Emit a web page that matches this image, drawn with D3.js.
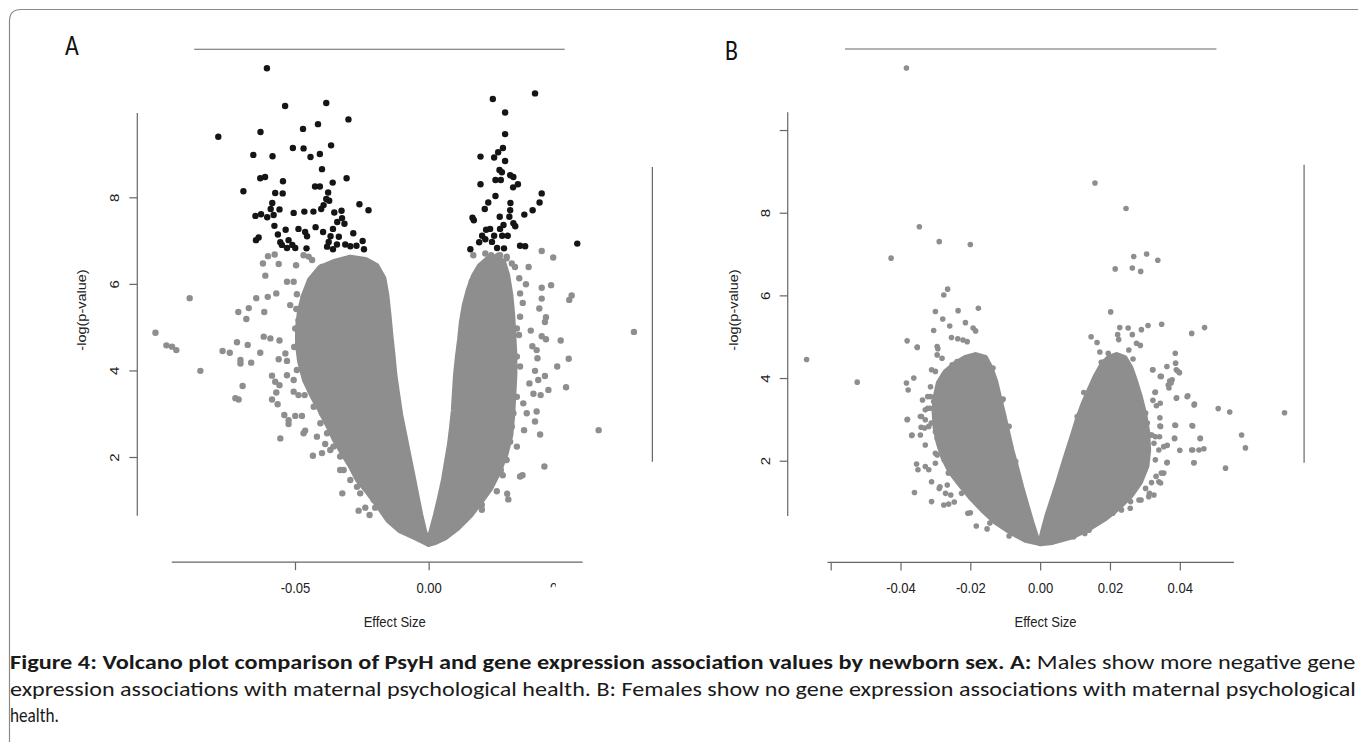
<!DOCTYPE html>
<html>
<head>
<meta charset="utf-8">
<script src="https://cdn.jsdelivr.net/npm/d3@7"></script>
<style>
  body { margin: 0; background: #fff; }
  svg { display: block; }
</style>
</head>
<body>
<script>
'use strict';

// ---- values: [effect size, -log(p-value)] ----

// panel A (males): genes past the significance cut, drawn black
const maleSignificant = [
  [-0.0605,10.98],[-0.0537,10.11],[-0.0383,10.18],[-0.0300,9.80],[-0.0787,9.40],[-0.0629,9.51],[-0.0470,9.58],
  [-0.0414,9.69],[-0.0365,9.20],[-0.0656,8.98],[-0.0584,8.95],[-0.0508,9.14],[-0.0468,9.13],[-0.0442,8.93],
  [-0.0407,9.00],[-0.0399,8.65],[-0.0630,8.44],[-0.0612,8.47],[-0.0545,8.37],[-0.0425,8.25],[-0.0407,8.25],
  [-0.0359,8.34],[-0.0307,8.44],[-0.0693,8.14],[-0.0574,8.10],[-0.0546,8.09],[-0.0376,8.11],[-0.0383,7.96],
  [-0.0372,7.92],[-0.0585,7.87],[-0.0591,7.73],[-0.0558,7.72],[-0.0393,7.82],[-0.0259,7.84],[-0.0225,7.70],
  [-0.0648,7.57],[-0.0627,7.61],[-0.0604,7.54],[-0.0580,7.59],[-0.0505,7.64],[-0.0465,7.67],[-0.0431,7.67],
  [-0.0402,7.73],[-0.0353,7.65],[-0.0326,7.69],[-0.0324,7.52],[-0.0342,7.43],[-0.0315,7.39],[-0.0577,7.34],
  [-0.0535,7.25],[-0.0487,7.27],[-0.0462,7.20],[-0.0423,7.31],[-0.0395,7.20],[-0.0358,7.27],[-0.0282,7.17],
  [-0.0636,7.07],[-0.0646,7.01],[-0.0564,7.14],[-0.0555,6.96],[-0.0524,7.01],[-0.0510,6.90],[-0.0530,6.83],
  [-0.0499,6.83],[-0.0455,7.10],[-0.0457,6.82],[-0.0374,6.97],[-0.0367,7.10],[-0.0336,7.09],[-0.0380,6.86],
  [-0.0343,6.91],[-0.0312,6.91],[-0.0293,6.87],[-0.0270,6.88],[-0.0247,6.99],[-0.0242,6.80],[-0.0358,6.80],
  [-0.0549,6.90],
  [0.0240,10.27],[0.0398,10.40],[0.0286,9.96],[0.0286,9.46],[0.0278,9.14],[0.0260,9.04],[0.0245,8.92],
  [0.0194,8.94],[0.0286,8.84],[0.0265,8.63],[0.0274,8.58],[0.0305,8.51],[0.0317,8.47],[0.0250,8.40],
  [0.0270,8.40],[0.0194,8.30],[0.0316,8.23],[0.0334,8.30],[0.0423,8.09],[0.0415,7.88],[0.0250,8.03],
  [0.0223,7.88],[0.0210,7.73],[0.0306,7.87],[0.0305,7.70],[0.0389,7.70],[0.0358,7.60],[0.0164,7.53],
  [0.0169,7.47],[0.0266,7.55],[0.0302,7.55],[0.0317,7.40],[0.0324,7.33],[0.0280,7.36],[0.0215,7.25],
  [0.0230,7.27],[0.0267,7.27],[0.0245,7.11],[0.0200,7.11],[0.0212,7.03],[0.0189,6.96],[0.0237,6.97],
  [0.0275,7.11],[0.0296,7.11],[0.0342,6.88],[0.0361,6.87],[0.0156,6.80],[0.0256,6.83],[0.0282,6.82],
  [0.0556,6.93]
];

// panel A: the remaining genes that stand apart from the packed cloud
const maleOther = [
  [-0.0894,5.67],[-0.1022,4.87],[-0.0981,4.58],[-0.0960,4.55],[-0.0944,4.47],[-0.0854,3.99],[-0.0771,4.45],
  [-0.0744,4.41],[-0.0717,4.65],[-0.0677,4.59],[-0.0704,4.24],[-0.0704,4.16],[-0.0664,4.18],[-0.0696,3.64],
  [-0.0723,3.36],[-0.0711,3.33],[-0.0712,5.35],[-0.0673,5.44],[-0.0682,5.19],[-0.0645,5.67],[-0.0615,5.35],
  [-0.0602,5.70],[-0.0570,5.78],[-0.0611,6.19],[-0.0620,6.47],[-0.0601,6.64],[-0.0576,6.68],[-0.0561,6.46],
  [-0.0617,4.78],[-0.0592,4.74],[-0.0558,4.69],[-0.0630,4.41],[-0.0561,4.26],[-0.0536,4.39],[-0.0530,4.22],
  [-0.0586,3.88],[-0.0574,3.74],[-0.0558,3.66],[-0.0570,3.49],[-0.0586,3.33],[-0.0565,3.22],[-0.0540,2.97],
  [-0.0524,2.85],[-0.0524,2.76],[-0.0499,2.95],[-0.0474,2.95],[-0.0555,2.43],[-0.0468,2.55],[-0.0462,2.61],
  [-0.0418,2.47],[-0.0433,2.03],[-0.0399,2.09],[-0.0387,2.30],[-0.0368,2.16],[-0.0331,1.70],[-0.0323,1.16],
  [-0.0262,0.76],[-0.0237,0.83],[-0.0221,0.66],[-0.0200,0.83],[-0.0505,3.51],[-0.0487,3.43],[-0.0464,3.43],
  [-0.0505,3.78],[-0.0530,3.89],[-0.0503,4.54],[-0.0472,4.53],[-0.0439,4.51],[-0.0487,4.74],[-0.0518,5.51],
  [-0.0495,5.42],[-0.0493,5.76],[-0.0530,6.05],[-0.0505,6.05],[-0.0458,5.51],[-0.0496,6.43],[-0.0468,6.66],
  [-0.0436,6.55],[-0.0487,5.16],[-0.0455,5.09],[-0.0499,4.97],
  [-0.0449,6.63],[-0.0399,6.39],[-0.0356,6.43],[-0.0306,6.55],[-0.0256,6.39],[-0.0219,6.32],[-0.0200,6.20],
  [-0.0181,6.09],[-0.0169,5.90],[-0.0206,6.01],[-0.0231,5.93],[-0.0268,5.97],[-0.0306,6.09],[-0.0380,6.13],
  [-0.0405,6.01],[-0.0430,5.93],[-0.0455,5.86],[-0.0468,5.70],[-0.0443,5.63],[-0.0393,5.67],[-0.0468,5.01],
  [-0.0430,4.93],[-0.0455,4.63],[-0.0430,4.32],[-0.0468,4.16],[-0.0493,4.01],[-0.0455,3.93],[-0.0430,3.78],
  [-0.0443,3.55],[-0.0418,3.32],[-0.0430,3.16],[-0.0399,3.01],[-0.0405,2.78],[-0.0380,2.55],[-0.0356,2.24],
  [-0.0331,2.01],[-0.0318,1.70],[-0.0293,1.47],[-0.0268,1.31],[-0.0256,1.16],[-0.0206,1.01],
  [0.0167,6.66],[0.0212,6.70],[0.0234,6.66],[0.0261,6.65],[0.0292,6.63],[0.0423,6.76],[0.0466,6.61],
  [0.0374,6.39],[0.0339,6.13],[0.0364,5.99],[0.0423,5.91],[0.0458,5.97],[0.0342,5.78],[0.0352,5.56],
  [0.0423,5.66],[0.0414,5.43],[0.0526,5.63],[0.0535,5.73],[0.0342,5.24],[0.0439,5.23],[0.0435,5.12],
  [0.0330,4.97],[0.0382,4.92],[0.0338,4.82],[0.0423,4.79],[0.0439,4.72],[0.0494,4.69],[0.0768,4.89],
  [0.0388,4.56],[0.0404,4.47],[0.0407,4.28],[0.0524,4.27],[0.0481,4.09],[0.0342,4.09],[0.0398,3.99],
  [0.0435,3.87],[0.0377,3.70],[0.0410,3.78],[0.0448,3.55],[0.0419,3.43],[0.0514,3.61],[0.0392,3.46],
  [0.0354,3.24],[0.0404,3.05],[0.0398,2.82],[0.0367,3.01],[0.0357,2.62],[0.0417,2.52],[0.0330,2.24],
  [0.0305,2.35],[0.0636,2.62],[0.0433,1.78],[0.0342,1.55],[0.0351,1.58],[0.0270,1.70],[0.0277,1.58],
  [0.0240,1.47],[0.0255,1.21],[0.0294,1.15],[0.0298,1.02],[0.0199,0.89],[0.0199,0.78],[0.0161,0.84],
  [0.0136,0.55],[0.0236,2.24],[0.0292,1.93],[0.0279,2.39],[0.0311,2.70],[0.0317,3.01],[0.0330,3.39],
  [0.0305,3.78],[0.0299,4.24],[0.0330,4.32],[0.0305,4.63],[0.0161,6.05],[0.0267,6.66],[0.0292,6.59],
  [0.0311,6.47],[0.0323,6.39]
];

// panel A: outline of the solid, fully overplotted part of each arm
const maleCloudNeg = [
  [0,0],[-0.0050,0.15],[-0.0107,0.31],[-0.0151,0.55],[-0.0189,0.89],[-0.0226,1.19],[-0.0263,1.47],
  [-0.0293,1.82],[-0.0323,2.12],[-0.0349,2.39],[-0.0376,2.74],[-0.0405,3.09],[-0.0435,3.43],[-0.0462,3.78],
  [-0.0480,4.20],[-0.0488,4.59],[-0.0488,4.98],[-0.0480,5.40],[-0.0465,5.74],[-0.0443,6.09],[-0.0405,6.37],
  [-0.0349,6.51],[-0.0293,6.60],[-0.0237,6.55],[-0.0196,6.41],[-0.0170,6.13],[-0.0159,5.74],[-0.0151,5.28],
  [-0.0144,4.82],[-0.0136,4.36],[-0.0129,3.90],[-0.0118,3.43],[-0.0107,2.97],[-0.0092,2.51],[-0.0077,2.05],
  [-0.0062,1.59],[-0.0047,1.12],[-0.0032,0.66],[-0.0017,0.27]
];
const maleCloudPos = [
  [0,0],[0.0013,0.31],[0.0028,0.66],[0.0043,1.05],[0.0058,1.47],[0.0069,1.88],[0.0080,2.27],[0.0088,2.67],
  [0.0095,3.08],[0.0099,3.50],[0.0103,3.89],[0.0110,4.31],[0.0118,4.70],[0.0125,5.12],[0.0136,5.51],
  [0.0151,5.86],[0.0170,6.18],[0.0192,6.41],[0.0222,6.57],[0.0252,6.62],[0.0278,6.50],[0.0293,6.20],
  [0.0305,5.74],[0.0312,5.28],[0.0316,4.82],[0.0320,4.36],[0.0320,3.89],[0.0316,3.43],[0.0312,2.97],
  [0.0305,2.51],[0.0286,2.05],[0.0260,1.65],[0.0230,1.28],[0.0192,0.96],[0.0155,0.66],[0.0110,0.38],
  [0.0062,0.15],[0.0024,0.04]
];

// panel B (females): no gene passes the cut
const femaleOther = [
  [-0.0383,11.50],[-0.0346,7.66],[-0.0289,7.30],[-0.0200,7.23],[-0.0427,6.90],[-0.0265,6.15],[-0.0276,6.01],
  [-0.0177,5.69],[-0.0235,5.63],[-0.0300,5.61],[-0.0279,5.43],[-0.0214,5.34],[-0.0259,5.26],[-0.0192,5.21],
  [-0.0185,5.14],[-0.0305,5.15],[-0.0381,4.90],[-0.0352,4.75],[-0.0295,4.76],[-0.0293,4.71],[-0.0254,4.98],
  [-0.0236,4.95],[-0.0221,4.92],[-0.0209,4.88],[-0.0669,4.45],[-0.0524,3.90],[-0.0383,3.88],[-0.0378,3.71],
  [-0.0362,4.00],[-0.0135,4.24],[-0.0106,3.49],[-0.0314,3.79],[-0.0381,2.99],[-0.0367,2.62],[-0.0343,2.62],
  [-0.0329,2.38],[-0.0354,1.92],[-0.0350,1.78],[-0.0319,1.78],[-0.0360,1.23],[-0.0311,1.01],[-0.0276,0.93],
  [-0.0262,0.95],[-0.0246,1.00],[-0.0200,0.74],[-0.0183,0.42],[-0.0144,0.49],[-0.0152,0.35],[-0.0311,1.49],
  [-0.0340,3.07],[-0.0329,3.23],[-0.0322,3.27],[-0.0341,2.81],[-0.0314,3.55],[-0.0305,3.43],[-0.0311,4.20],
  [-0.0300,4.16],[-0.0276,4.08],[-0.0266,4.04],[-0.0295,4.56],[-0.0281,4.48],[-0.0252,4.32],[-0.0238,4.40],
  [-0.0329,1.86],[-0.0266,1.41],[-0.0271,1.21],[-0.0289,1.33],[-0.0300,1.94],[-0.0295,2.14],[-0.0295,2.54],
  [-0.0300,2.70],[-0.0319,2.83],[-0.0329,2.99],[-0.0315,3.27],[-0.0200,4.24],[-0.0190,4.16],[-0.0194,4.40],
  [-0.0185,4.32],[-0.0166,4.30],[-0.0352,4.74],[-0.0380,3.00],[-0.0368,2.61],[-0.0337,3.47],[-0.0322,3.55],
  [-0.0343,3.07],[-0.0331,2.79],[-0.0312,2.91],[-0.0300,2.18],[-0.0287,2.34],[-0.0275,2.02],[-0.0263,1.70],
  [-0.0287,1.37],[-0.0256,1.17],[-0.0225,1.21],[-0.0207,0.73],[-0.0108,3.47],[-0.0089,2.83],[-0.0070,1.98],
  [-0.0058,1.29],[-0.0089,0.18],
  [0.0157,8.72],[0.0246,8.10],[0.0268,6.94],[0.0305,7.00],[0.0337,6.85],[0.0215,6.64],[0.0264,6.66],
  [0.0288,6.58],[0.0202,5.60],[0.0228,5.22],[0.0252,5.21],[0.0290,5.17],[0.0309,5.27],[0.0348,5.30],
  [0.0471,5.22],[0.0434,5.08],[0.0146,5.00],[0.0163,4.86],[0.0222,5.05],[0.0225,4.93],[0.0264,5.05],
  [0.0276,4.84],[0.0287,4.79],[0.0254,4.68],[0.0171,4.63],[0.0195,4.60],[0.0175,4.38],[0.0184,4.40],
  [0.0212,4.46],[0.0266,4.46],[0.0251,4.30],[0.0387,4.60],[0.0323,4.20],[0.0347,4.04],[0.0390,4.20],
  [0.0399,4.13],[0.0371,3.93],[0.0378,3.96],[0.0367,3.83],[0.0125,3.65],[0.0329,3.65],[0.0391,3.52],
  [0.0423,3.57],[0.0323,3.46],[0.0333,3.33],[0.0442,3.37],[0.0510,3.26],[0.0543,3.18],[0.0700,3.16],
  [0.0343,3.04],[0.0106,3.07],[0.0386,2.86],[0.0437,2.84],[0.0343,2.84],[0.0577,2.62],[0.0588,2.31],
  [0.0459,2.54],[0.0385,2.54],[0.0364,2.37],[0.0340,2.26],[0.0400,2.25],[0.0434,2.26],[0.0455,2.26],
  [0.0469,2.29],[0.0440,1.95],[0.0531,1.82],[0.0364,1.96],[0.0330,2.02],[0.0354,1.70],[0.0340,1.49],
  [0.0345,1.46],[0.0326,1.17],[0.0311,1.13],[0.0302,1.33],[0.0283,1.05],[0.0259,1.01],[0.0125,0.32],
  [0.0096,0.16],[0.0020,0.61],[0.0287,3.07],[0.0307,2.91],[0.0302,3.15],[0.0316,2.62],[0.0330,2.58],
  [0.0283,2.42],[0.0307,2.26],[0.0278,3.39],[0.0292,3.31],[0.0259,3.55],[0.0240,3.88],[0.0259,3.76],
  [0.0322,4.20],[0.0344,4.04],[0.0330,3.66],[0.0394,4.17],[0.0375,3.88],[0.0369,3.76],[0.0421,3.55],
  [0.0390,3.51],[0.0441,3.35],[0.0388,2.85],[0.0385,2.54],[0.0435,2.85],[0.0458,2.54],[0.0342,2.58],
  [0.0345,2.83],[0.0320,2.62],[0.0326,2.42],[0.0347,1.70],[0.0332,1.62],[0.0319,1.47],[0.0313,1.21],
  [0.0289,1.05],[0.0258,0.85],[0.0233,0.81],[0.0208,0.73],[0.0140,0.32],[0.0128,0.24],[0.0091,0.20],
  [0.0344,3.39],[0.0437,2.26],[0.0441,1.95],[0.0388,4.36],[0.0363,4.28],[0.0363,1.95],[0.0354,2.34]
];
const femaleCloudNeg = [
  [0,0],[-0.0042,0.08],[-0.0085,0.28],[-0.0128,0.52],[-0.0165,0.81],[-0.0200,1.12],[-0.0228,1.41],
  [-0.0257,1.73],[-0.0277,2.07],[-0.0291,2.43],[-0.0300,2.80],[-0.0303,3.18],[-0.0300,3.54],[-0.0291,3.88],
  [-0.0271,4.15],[-0.0243,4.35],[-0.0214,4.49],[-0.0185,4.56],[-0.0157,4.49],[-0.0142,4.25],[-0.0128,3.91],
  [-0.0117,3.52],[-0.0105,3.11],[-0.0094,2.70],[-0.0082,2.26],[-0.0068,1.83],[-0.0054,1.37],[-0.0039,0.93],
  [-0.0025,0.52],[-0.0011,0.15]
];
const femaleCloudPos = [
  [0,0],[0.0009,0.32],[0.0021,0.69],[0.0035,1.05],[0.0050,1.44],[0.0064,1.83],[0.0078,2.21],[0.0093,2.60],
  [0.0107,2.99],[0.0124,3.38],[0.0141,3.71],[0.0158,4.03],[0.0176,4.30],[0.0196,4.49],[0.0219,4.56],
  [0.0242,4.49],[0.0259,4.25],[0.0273,3.91],[0.0287,3.52],[0.0299,3.11],[0.0307,2.70],[0.0310,2.26],
  [0.0305,1.87],[0.0287,1.49],[0.0259,1.15],[0.0224,0.86],[0.0184,0.59],[0.0138,0.35],[0.0087,0.15],
  [0.0035,0.03]
];

// tick values and labels
const maleXTicks = [-0.05, 0, 0.05];
const maleXTickLabels = ["-0.05", "0.00", "0.05"];
const maleYTicks = [2, 4, 6, 8];
const maleYTickLabels = ["2", "4", "6", "8"];
const femaleXTicks = [-0.06, -0.04, -0.02, 0, 0.02, 0.04];
const femaleXTickLabels = ["", "-0.04", "-0.02", "0.00", "0.02", "0.04"];
const femaleYTicks = [2, 4, 6, 8, 10];
const femaleYTickLabels = ["2", "4", "6", "8", ""];

const xTitle = "Effect Size";
const yTitle = "-log(p-value)";
const captionBold = "Figure 4:  Volcano plot comparison of PsyH and gene expression association values by newborn sex. A:";
const captionLines = [
  " Males show more negative gene",
  "expression associations with maternal psychological health. B: Females show no gene expression associations with maternal psychological",
  "health."
];

(function() {

  let width = 1358;
  let height = 742;
  let svg = null;
  const gray = "#8e8e8e";
  const rFont = "'Liberation Sans', Arial, Helvetica, sans-serif";
  const capFont = "Carlito, Lato, 'Open Sans', sans-serif";
  const squeeze = 0.87; // R text in the figure is squeezed sideways

  window.onload = function() {
    svg = d3.select('body')
      .append('svg')
      .attr('width', width)
      .attr('height', height);

    // figure frame
    svg.append('path')
      .attr('d', 'M9.5,742V21Q9.5,9.5,21,9.5H1358')
      .attr('fill', 'none')
      .attr('stroke', '#8a8a8a')
      .attr('stroke-width', 1.2);

    drawPanel({
      letter: 'A', letterX: 65, letterY: 55,
      xDomain: [-0.05, 0.05], xRange: [295, 562.3],
      yDomain: [2, 8], yRange: [457, 197.3],
      xTicks: maleXTicks, xLabels: maleXTickLabels,
      yTicks: maleYTicks, yLabels: maleYTickLabels,
      xAxisAt: -0.43, xAxisSpan: [-0.0961, 0.0576],
      yAxisAt: -0.1090, yAxisSpan: [0.64, 9.95],
      topLine: [-0.0877, 0.0509, 11.42],
      rightLine: [0.0837, 8.70, 1.89],
      xTitleX: 394.7, yTitleX: 86,
      clipLastLabel: true,
      radius: 3.2,
      clouds: [maleCloudNeg, maleCloudPos],
      gray: maleOther,
      black: maleSignificant
    });

    drawPanel({
      letter: 'B', letterX: 725, letterY: 60,
      xDomain: [-0.04, 0.04], xRange: [900.5, 1179.8],
      yDomain: [2, 8], yRange: [460.7, 212.7],
      xTicks: femaleXTicks, xLabels: femaleXTickLabels,
      yTicks: femaleYTicks, yLabels: femaleYTickLabels,
      xAxisAt: -0.46, xAxisSpan: [-0.0609, 0.0555],
      yAxisAt: -0.0723, yAxisSpan: [0.66, 10.43],
      topLine: [-0.0559, 0.0505, 11.96],
      rightLine: [0.0756, 9.16, 1.95],
      xTitleX: 1045.5, yTitleX: 737.5,
      clipLastLabel: false,
      radius: 2.8,
      clouds: [femaleCloudNeg, femaleCloudPos],
      gray: femaleOther,
      black: []
    });

    makeCaption();
  }

  function drawPanel(p) {
    let xScale = d3.scaleLinear().domain(p.xDomain).range(p.xRange);
    let yScale = d3.scaleLinear().domain(p.yDomain).range(p.yRange);
    let g = svg.append('g');

    // leftover pieces of the plot box
    g.append('line')
      .attr('x1', xScale(p.topLine[0])).attr('x2', xScale(p.topLine[1]))
      .attr('y1', yScale(p.topLine[2])).attr('y2', yScale(p.topLine[2]))
      .attr('stroke', '#666').attr('stroke-width', 1.2);
    g.append('line')
      .attr('x1', xScale(p.rightLine[0])).attr('x2', xScale(p.rightLine[0]))
      .attr('y1', yScale(p.rightLine[1])).attr('y2', yScale(p.rightLine[2]))
      .attr('stroke', '#666').attr('stroke-width', 1.2);

    // x axis
    let xAxis = d3.axisBottom(xScale)
      .tickValues(p.xTicks)
      .tickSize(8)
      .tickFormat((d, i) => p.xLabels[i]);
    let gx = g.append('g')
      .attr('transform', 'translate(0,' + yScale(p.xAxisAt) + ')')
      .call(xAxis);
    gx.select('.domain')
      .attr('d', 'M' + xScale(p.xAxisSpan[0]) + ',0H' + xScale(p.xAxisSpan[1]));
    gx.selectAll('.domain, .tick line').attr('stroke', '#666').attr('stroke-width', 1.2);
    gx.selectAll('.tick text')
      .attr('y', 30.7)
      .attr('dy', 0)
      .attr('transform', 'scale(' + squeeze + ',1)')
      .style('font-family', rFont)
      .style('font-size', '15px')
      .attr('fill', '#222');
    if (p.clipLastLabel) {
      // only the top of the last label survives in the figure
      let clipId = 'clip' + p.letter;
      svg.append('clipPath').attr('id', clipId)
        .append('rect')
        .attr('x', -13).attr('y', 18).attr('width', 6).attr('height', 7);
      gx.selectAll('.tick').filter((d, i) => i === p.xTicks.length - 1)
        .attr('clip-path', 'url(#' + clipId + ')');
    }

    // y axis
    let yAxis = d3.axisLeft(yScale)
      .tickValues(p.yTicks)
      .tickSize(8)
      .tickFormat((d, i) => p.yLabels[i]);
    let gy = g.append('g')
      .attr('transform', 'translate(' + xScale(p.yAxisAt) + ',0)')
      .call(yAxis);
    gy.select('.domain')
      .attr('d', 'M0,' + yScale(p.yAxisSpan[0]) + 'V' + yScale(p.yAxisSpan[1]));
    gy.selectAll('.domain, .tick line').attr('stroke', '#666').attr('stroke-width', 1.2);
    gy.selectAll('.tick text')
      .attr('x', 0)
      .attr('y', -18 / squeeze)
      .attr('dy', 0)
      .attr('text-anchor', 'middle')
      .attr('transform', 'scale(' + squeeze + ',1) rotate(-90)')
      .style('font-family', rFont)
      .style('font-size', '15px')
      .attr('fill', '#222');

    // axis titles
    g.append('text')
      .attr('transform', 'translate(' + p.xTitleX + ',626.5) scale(' + squeeze + ',1)')
      .attr('text-anchor', 'middle')
      .style('font-family', rFont)
      .style('font-size', '15px')
      .attr('fill', '#222')
      .text(xTitle);
    g.append('text')
      .attr('transform', 'translate(' + p.yTitleX + ',310) scale(' + squeeze + ',1) rotate(-90)')
      .attr('text-anchor', 'middle')
      .style('font-family', rFont)
      .style('font-size', '14.5px')
      .attr('fill', '#222')
      .text(yTitle);

    // panel letter
    svg.append('text')
      .attr('x', p.letterX)
      .attr('y', p.letterY)
      .attr('transform', 'translate(' + p.letterX + ',0) scale(0.85,1) translate(' + (-p.letterX) + ',0)')
      .style('font-family', capFont)
      .style('font-size', '28px')
      .attr('fill', '#111')
      .text(p.letter);

    plotData(g, p, xScale, yScale);
  }

  function plotData(g, p, xScale, yScale) {
    let line = d3.line()
      .x(d => xScale(d[0]))
      .y(d => yScale(d[1]))
      .curve(d3.curveLinearClosed);

    // packed part of the cloud: every dot overlaps, so it reads as one shape
    g.selectAll('.cloud')
      .data(p.clouds)
      .enter()
      .append('path')
      .attr('d', d => line(d))
      .attr('fill', gray)
      .attr('stroke', gray)
      .attr('stroke-width', p.radius * 2)
      .attr('stroke-linejoin', 'round');

    g.selectAll('.grayDot')
      .data(p.gray)
      .enter()
      .append('circle')
      .attr('cx', d => xScale(d[0]))
      .attr('cy', d => yScale(d[1]))
      .attr('r', p.radius)
      .attr('fill', gray);

    g.selectAll('.blackDot')
      .data(p.black)
      .enter()
      .append('circle')
      .attr('cx', d => xScale(d[0]))
      .attr('cy', d => yScale(d[1]))
      .attr('r', p.radius)
      .attr('fill', '#151515');
  }

  function makeCaption() {
    let left = 10;
    let right = 1356;
    let baselines = [669, 696, 722];

    let t1 = svg.append('text')
      .style('font-family', capFont)
      .style('font-size', '21px')
      .attr('fill', '#1a1a1a');
    t1.append('tspan').style('font-weight', 'bold').text(captionBold);
    t1.append('tspan').text(captionLines[0]);
    fitLine(t1, left, baselines[0], right - left);

    let t2 = svg.append('text')
      .style('font-family', capFont)
      .style('font-size', '21px')
      .attr('fill', '#1a1a1a')
      .text(captionLines[1]);
    fitLine(t2, left, baselines[1], right - left);

    svg.append('text')
      .style('font-family', capFont)
      .style('font-size', '21px')
      .attr('fill', '#1a1a1a')
      .attr('transform', 'translate(' + left + ',' + baselines[2] + ') scale(0.82,1)')
      .text(captionLines[2]);
  }

  // justified caption line: stretch or squeeze to the column width
  function fitLine(sel, x, y, w) {
    let natural = sel.node().getComputedTextLength();
    sel.attr('transform', 'translate(' + x + ',' + y + ') scale(' + (w / natural) + ',1)');
  }

})();
</script>
</body>
</html>
